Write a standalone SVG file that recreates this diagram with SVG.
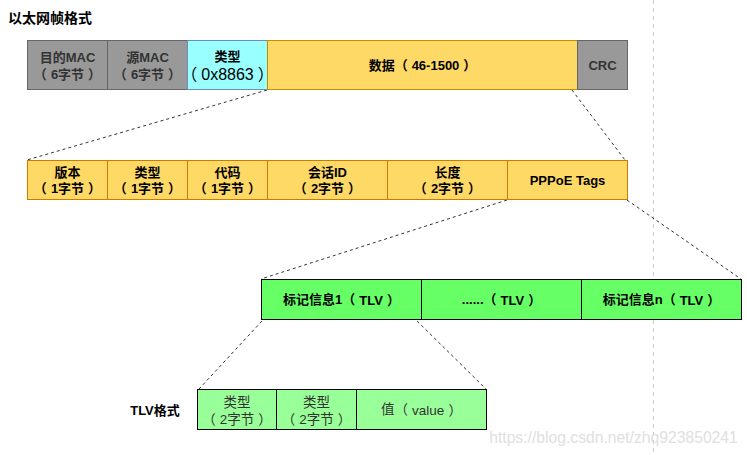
<svg xmlns="http://www.w3.org/2000/svg" width="747" height="455" viewBox="0 0 747 455">
<style>
text{font-family:"Liberation Sans","Noto Sans CJK SC",sans-serif;text-anchor:middle;dominant-baseline:central}
.b{font-weight:bold;font-size:13px;fill:#000}
.g{font-weight:bold;font-size:13px;fill:#333}
.n{font-size:13.5px;fill:#333}
.gray{fill:#999;stroke:#666;stroke-width:1}
.cyan{fill:#99FFFF;stroke:#6c8ebf;stroke-width:1}
.data{fill:#FFD966;stroke:#BF9000;stroke-width:1}
.org{fill:#FFD966;stroke:#CC7A00;stroke-width:1}
.grn{fill:#66FF66;stroke:#000;stroke-width:1}
.lgrn{fill:#99FF99;stroke:#000;stroke-width:1}
.dash{stroke:#333;stroke-width:1;stroke-dasharray:3,3;fill:none}
</style>
<line x1="653.5" y1="0" x2="653.5" y2="455" stroke="#C8C8C8" stroke-dasharray="4,4"/>
<text x="8" y="18" style="text-anchor:start;font-weight:bold;font-size:14px">以太网帧格式</text>
<g id="connectors">
<line class="dash" x1="267" y1="90" x2="27" y2="160"/>
<line class="dash" x1="572" y1="90" x2="625" y2="160"/>
<line class="dash" x1="507" y1="200" x2="261" y2="279"/>
<line class="dash" x1="627" y1="200" x2="741" y2="279"/>
<line class="dash" x1="262" y1="321" x2="199" y2="389"/>
<line class="dash" x1="417" y1="321" x2="486" y2="389"/>
</g>
<g id="eth-dst"><rect class="gray" x="27.5" y="40.5" width="80" height="49"/><text class="g" x="67.5" y="57">目的MAC</text><text class="g" x="67.5" y="74">（<tspan dx="4">6字节</tspan><tspan dx="4">）</tspan></text></g>
<g id="eth-src"><rect class="gray" x="107.5" y="40.5" width="80" height="49"/><text class="g" x="147.5" y="57">源MAC</text><text class="g" x="147.5" y="74">（<tspan dx="4">6字节</tspan><tspan dx="4">）</tspan></text></g>
<g id="eth-type"><rect class="cyan" x="187.5" y="40.5" width="80" height="49"/><text class="b" x="227.5" y="56">类型</text><text x="227.5" y="74" style="font-size:16px">（<tspan dx="4">0x8863</tspan><tspan dx="4">）</tspan></text></g>
<g id="eth-data"><rect class="data" x="267.5" y="40.5" width="310" height="49"/><text class="b" x="422.5" y="65">数据（<tspan dx="4">46-1500</tspan><tspan dx="4">）</tspan></text></g>
<g id="eth-crc"><rect class="gray" x="577.5" y="40.5" width="50" height="49"/><text class="g" x="602.5" y="65">CRC</text></g>

<g id="p-ver"><rect class="org" x="27.5" y="160.5" width="80" height="39"/><text class="b" x="67.5" y="172">版本</text><text class="b" x="67.5" y="188">（<tspan dx="4">1字节</tspan><tspan dx="4">）</tspan></text></g>
<g id="p-type"><rect class="org" x="107.5" y="160.5" width="80" height="39"/><text class="b" x="147.5" y="172">类型</text><text class="b" x="147.5" y="188">（<tspan dx="4">1字节</tspan><tspan dx="4">）</tspan></text></g>
<g id="p-code"><rect class="org" x="187.5" y="160.5" width="80" height="39"/><text class="b" x="227.5" y="172">代码</text><text class="b" x="227.5" y="188">（<tspan dx="4">1字节</tspan><tspan dx="4">）</tspan></text></g>
<g id="p-sid"><rect class="org" x="267.5" y="160.5" width="120" height="39"/><text class="b" x="327.5" y="172">会话ID</text><text class="b" x="327.5" y="188">（<tspan dx="4">2字节</tspan><tspan dx="4">）</tspan></text></g>
<g id="p-len"><rect class="org" x="387.5" y="160.5" width="120" height="39"/><text class="b" x="447.5" y="172">长度</text><text class="b" x="447.5" y="188">（<tspan dx="4">2字节</tspan><tspan dx="4">）</tspan></text></g>
<g id="p-tags"><rect class="org" x="507.5" y="160.5" width="120" height="39"/><text class="b" x="567.5" y="180">PPPoE Tags</text></g>

<g id="t-1"><rect class="grn" x="261.5" y="279.5" width="160" height="40"/><text class="b" x="341.5" y="299.5">标记信息1（<tspan dx="4">TLV</tspan><tspan dx="4">）</tspan></text></g>
<g id="t-mid"><rect class="grn" x="421.5" y="279.5" width="160" height="40"/><text class="b" x="501.5" y="299.5">......（<tspan dx="4">TLV</tspan><tspan dx="4">）</tspan></text></g>
<g id="t-n"><rect class="grn" x="581.5" y="279.5" width="160" height="40"/><text class="b" x="661.5" y="299.5">标记信息n（<tspan dx="4">TLV</tspan><tspan dx="4">）</tspan></text></g>

<text x="155" y="410" style="font-weight:bold;font-size:13px">TLV格式</text>
<g id="tlv-type"><rect class="lgrn" x="197.5" y="389.5" width="79" height="40"/><text class="n" x="237" y="402">类型</text><text class="n" x="237" y="419">（<tspan dx="4">2字节</tspan><tspan dx="4">）</tspan></text></g>
<g id="tlv-len"><rect class="lgrn" x="276.5" y="389.5" width="80" height="40"/><text class="n" x="316.5" y="402">类型</text><text class="n" x="316.5" y="419">（<tspan dx="4">2字节</tspan><tspan dx="4">）</tspan></text></g>
<g id="tlv-val"><rect class="lgrn" x="356.5" y="389.5" width="130" height="40"/><text class="n" x="421.5" y="409.5">值（<tspan dx="4">value</tspan><tspan dx="4">）</tspan></text></g>
<text x="613.5" y="437" style="font-size:15.7px;fill:#E0E0E0">https://blog.csdn.net/zhq923850241</text>
</svg>
